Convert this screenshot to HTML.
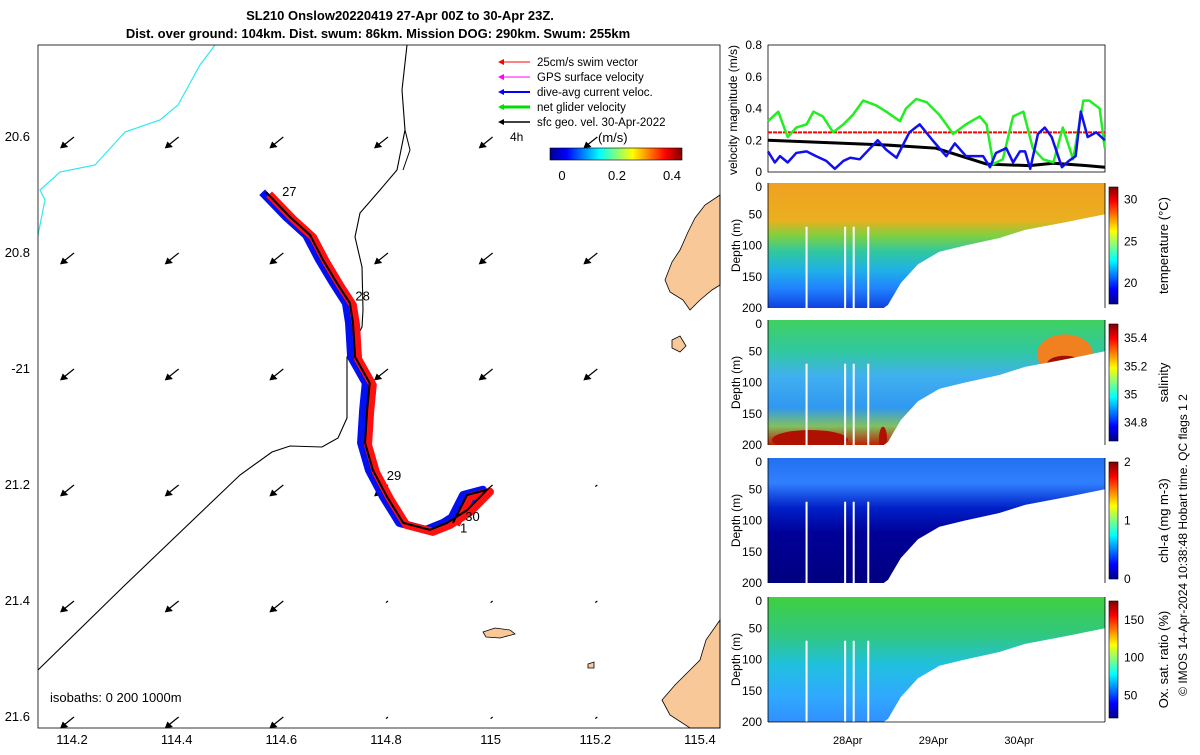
<!DOCTYPE html>
<html><head><meta charset="utf-8"><style>
body{margin:0;background:#fff;}
svg{font-family:"Liberation Sans",sans-serif;}
</style></head><body>
<svg id="s" width="1200" height="750" viewBox="0 0 1200 750" xmlns="http://www.w3.org/2000/svg">
<defs>
<linearGradient id="jetH" x1="0" x2="1" y1="0" y2="0">
<stop offset="0" stop-color="#00008f"/><stop offset="0.125" stop-color="#0000ff"/><stop offset="0.375" stop-color="#00ffff"/><stop offset="0.625" stop-color="#ffff00"/><stop offset="0.875" stop-color="#ff0000"/><stop offset="1" stop-color="#800000"/></linearGradient>
<linearGradient id="jetV" x1="0" x2="0" y1="1" y2="0">
<stop offset="0" stop-color="#00008f"/><stop offset="0.125" stop-color="#0000ff"/><stop offset="0.375" stop-color="#00ffff"/><stop offset="0.625" stop-color="#ffff00"/><stop offset="0.875" stop-color="#ff0000"/><stop offset="1" stop-color="#800000"/></linearGradient>
<linearGradient id="gT" x1="0" x2="0" y1="0" y2="1">
<stop offset="0" stop-color="#f0a020"/><stop offset="0.3" stop-color="#eab020"/><stop offset="0.42" stop-color="#80d040"/><stop offset="0.55" stop-color="#30c8a0"/><stop offset="0.7" stop-color="#20b0e8"/><stop offset="0.85" stop-color="#2080ff"/><stop offset="1" stop-color="#1040e0"/></linearGradient>
<linearGradient id="gS" x1="0" x2="0" y1="0" y2="1">
<stop offset="0" stop-color="#40d060"/><stop offset="0.25" stop-color="#30c8a0"/><stop offset="0.45" stop-color="#40b0f0"/><stop offset="0.7" stop-color="#3098f0"/><stop offset="0.85" stop-color="#80c060"/><stop offset="1" stop-color="#c02000"/></linearGradient>
<linearGradient id="gC" x1="0" x2="0" y1="0" y2="1">
<stop offset="0" stop-color="#2070f0"/><stop offset="0.2" stop-color="#3080ff"/><stop offset="0.4" stop-color="#0020c8"/><stop offset="0.6" stop-color="#000098"/><stop offset="1" stop-color="#000080"/></linearGradient>
<linearGradient id="gO" x1="0" x2="0" y1="0" y2="1">
<stop offset="0" stop-color="#40d040"/><stop offset="0.3" stop-color="#30c880"/><stop offset="0.55" stop-color="#20c0e0"/><stop offset="0.8" stop-color="#30a8ff"/><stop offset="1" stop-color="#3090ff"/></linearGradient>
</defs>
<g font-weight="bold" font-size="13" text-anchor="middle">
<text x="400" y="20">SL210 Onslow20220419 27-Apr 00Z to 30-Apr 23Z.</text>
<text x="378" y="38">Dist. over ground: 104km. Dist. swum: 86km. Mission DOG: 290km. Swum: 255km</text>
</g>
<g id="map"></g>
<g id="vel"></g>
<g id="heat"></g>
<text transform="translate(1187,545) rotate(-90)" font-size="12" text-anchor="middle">© IMOS 14-Apr-2024 10:38:48 Hobart time. QC flags 1  2</text>
</svg>
<script>
// ---------- data ----------
const lonTicks=[114.2,114.4,114.6,114.8,115,115.2,115.4];
const latTicks=[20.6,20.8,21,21.2,21.4,21.6];
const trackLon=[114.571,114.617,114.655,114.680,114.706,114.731,114.737,114.741,114.769,114.764,114.760,114.775,114.802,114.833,114.884,114.917,114.955,114.993,114.955,114.928];
const trackLat=[20.697,20.740,20.771,20.814,20.853,20.888,20.922,20.981,21.026,21.072,21.129,21.176,21.222,21.267,21.279,21.267,21.245,21.210,21.219,21.267];
const dayLabels=["27","28","29","30","1"];
const dayLon=[114.59,114.73,114.79,114.94,114.93];
const dayLat=[20.70,20.88,21.19,21.26,21.28];
const velT=[0,0.12,0.23,0.33,0.45,0.53,0.64,0.76,0.88,0.99,1.11,1.26,1.38,1.54,1.61,1.73,1.85,2.0,2.16,2.31,2.47,2.55,2.63,2.74,2.86,2.98,3.09,3.21,3.33,3.44,3.56,3.68,3.75,3.87,3.93];
const netVel=[0.32,0.38,0.22,0.28,0.30,0.38,0.35,0.25,0.30,0.36,0.45,0.42,0.38,0.32,0.40,0.46,0.44,0.36,0.24,0.30,0.35,0.30,0.05,0.08,0.35,0.38,0.15,0.08,0.06,0.28,0.08,0.45,0.45,0.40,0.15];
const curT=[0,0.08,0.14,0.23,0.33,0.45,0.56,0.68,0.78,0.88,0.96,1.07,1.28,1.38,1.50,1.65,1.77,1.92,2.08,2.18,2.31,2.51,2.59,2.66,2.78,2.86,2.94,3.00,3.06,3.15,3.23,3.31,3.43,3.51,3.59,3.65,3.73,3.83,3.93];
const curVel=[0.13,0.06,0.10,0.06,0.12,0.13,0.10,0.07,0.02,0.07,0.09,0.08,0.20,0.14,0.09,0.25,0.30,0.20,0.10,0.18,0.10,0.10,0.03,0.12,0.15,0.06,0.13,0.13,0.02,0.24,0.28,0.22,0.03,0.07,0.10,0.38,0.22,0.25,0.20];
const geoT=[0,1.38,1.96,2.55,3.05,3.33,3.72,3.93];
const geoVel=[0.20,0.17,0.15,0.05,0.04,0.055,0.04,0.03];
const swimVel=0.25;
const velTicks=[0,0.2,0.4,0.6,0.8];
const dateTicks=[1,2,3];
const dateLabels=["28Apr","29Apr","30Apr"];
const bottomT=[0,1.35,1.40,1.55,1.75,2.0,2.3,2.7,3.0,3.5,4.0];
const bottomD=[200,200,195,160,130,110,100,88,75,62,50];
const depthTicks=[0,50,100,150,200];
const tempTicks=[20,25,30];const tempRange=[17.5,31.5];
const salTicks=[34.8,35,35.2,35.4];const salRange=[34.67,35.5];
const chlTicks=[0,1,2];const chlRange=[0,2];
const oxTicks=[50,100,150];const oxRange=[20,175];
const gapT=[0.45,0.9,1.0,1.17];

const NS="http://www.w3.org/2000/svg";
function mk(p,tag,at,txt){const e=document.createElementNS(NS,tag);for(const k in at)e.setAttribute(k,at[k]);if(txt!==undefined)e.textContent=txt;p.appendChild(e);return e;}
// ---------- map ----------
const map=document.getElementById('map');
const X=l=>72+(l-114.2)*523.3, Y=l=>136+(l-20.6)*580;
let el;
[[ "M720,195 L705,205 L695,218 L688,232 L680,250 L672,262 L665,280 L670,292 L683,300 L690,310 L700,300 L712,290 L720,285Z"],
 ["M672,340 L680,336 L686,346 L680,352 L672,348Z"],
 ["M483,632 L495,628 L510,630 L515,634 L500,638 L486,637Z"],
 ["M720,620 L706,640 L700,660 L690,670 L675,685 L662,700 L670,715 L690,728 L720,728Z"],
 ["M588,664 L594,662 L594,668 L588,668Z"]].forEach(d=>{const p=mk(map,'path',{d:d[0],fill:'#f8c898',stroke:'#000','stroke-width':0.8});
 });
el=mk(map,'polyline',{points:"38,235 45,200 40,190 60,172 95,165 125,132 160,120 178,105 200,65 215,45",fill:'none',stroke:'#30e8f0','stroke-width':1.2});

el=mk(map,'polyline',{points:"38,670 125,585 240,475 272,452 290,446 322,447 338,438 347,418 347,357 362,327 363,310 362,267 355,237 360,213 380,190 397,170 405,130 402,90 407,45",fill:'none',stroke:'#000','stroke-width':1.1});

el=mk(map,'polyline',{points:"405,130 410,150 403,170",fill:'none',stroke:'#000','stroke-width':1});

lonTicks.slice(0,6).forEach((lo,i)=>latTicks.forEach((la,j)=>{
 const big=!(i>=3&&j>=4)&&!(i==5&&j>=3);const x=X(lo)+2,y=Y(la)+1;
 const g=mk(map,'g',{stroke:'#000','stroke-width':1.2});
 
 const L=big?12:2;mk(g,'line',{x1:x,y1:y,x2:x-L,y2:y+L*0.8});
 if(big)mk(g,'path',{d:`M${x-L-1},${y+L*0.8+1} l6,-1 l-4,-4Z`,fill:'#000'});
}));
const pts=(dx,dy)=>trackLon.map((l,i)=>(X(l)+dx)+','+(Y(trackLat[i])+dy)).join(' ');
el=mk(map,'polyline',{points:pts(-4,0),fill:'none',stroke:'#0010f0','stroke-width':8,'stroke-linejoin':'round'});

el=mk(map,'polyline',{points:pts(3,2),fill:'none',stroke:'#ff1010','stroke-width':8,'stroke-linejoin':'round'});

el=mk(map,'polyline',{points:pts(0,0),fill:'none',stroke:'#000','stroke-width':2});

dayLabels.forEach((d,i)=>{el=mk(map,'text',{x:X(dayLon[i])+6,y:Y(dayLat[i])+2,'font-size':13},d);
 });
el=mk(map,'rect',{x:38,y:45,width:682,height:683,fill:'none',stroke:'#000','stroke-width':0.8});

lonTicks.forEach(l=>{el=mk(map,'text',{x:X(l),y:744,'font-size':13,'text-anchor':'middle'},String(l));
 });
latTicks.forEach(l=>{el=mk(map,'text',{x:30,y:Y(l)+5,'font-size':13,'text-anchor':'end'},l==21?'-21':l.toFixed(1));
 });
el=mk(map,'text',{x:50,y:702,'font-size':13},'isobaths: 0   200  1000m');

const leg=[['#ff0000','25cm/s swim vector',1],['#ff00ff','GPS surface velocity',1],['#0000ff','dive-avg current veloc.',2],['#00dd00','net glider velocity',3],['#000','sfc geo. vel. 30-Apr-2022',1.5]];
leg.forEach((l,i)=>{const g=mk(map,'g',{});
 const y=62+i*15;mk(g,'line',{x1:500,y1:y,x2:530,y2:y,stroke:l[0],'stroke-width':l[2]});
 mk(g,'path',{d:`M498,${y} l6,-3 l0,6Z`,fill:l[0]});mk(g,'text',{x:537,y:y+4,'font-size':11.5},l[1]);});
el=mk(map,'text',{x:510,y:141,'font-size':12},'4h');
el=mk(map,'text',{x:598,y:142,'font-size':13},'(m/s)');
el=mk(map,'rect',{x:550,y:148,width:132,height:12,fill:'url(#jetH)',stroke:'#000','stroke-width':0.6});

[[0,562],[0.2,617],[0.4,672]].forEach(t=>{el=mk(map,'text',{x:t[1],y:180,'font-size':13,'text-anchor':'middle'},String(t[0]));
 });
// ---------- velocity chart ----------
const vel=document.getElementById('vel');
const tx=t=>768+t*85.7, vy=v=>172-v*(127/0.8);
el=mk(vel,'rect',{x:768,y:45,width:337,height:127,fill:'#fff',stroke:'#000','stroke-width':0.8});

velTicks.forEach(v=>{el=mk(vel,'text',{x:762,y:vy(v)+4,'font-size':12,'text-anchor':'end'},String(v));
 });
el=mk(vel,'text',{transform:'translate(737,110) rotate(-90)','font-size':12,'text-anchor':'middle'},'velocity magnitude (m/s)');

el=mk(vel,'line',{x1:768,x2:1105,y1:vy(swimVel),y2:vy(swimVel),stroke:'#ff0000','stroke-width':2,'stroke-dasharray':'4,1'});

const line=(T,V,c,w,n)=>{const p=mk(vel,'polyline',{points:T.map((t,i)=>tx(t)+','+vy(V[i])).join(' '),fill:'none',stroke:c,'stroke-width':w,'stroke-linejoin':'round'});};
line(geoT,geoVel,'#000',3,'geo-velocity-line');
line(velT,netVel,'#22ee22',2.5,'net-glider-velocity-line');
line(curT,curVel,'#1010ee',2.5,'current-velocity-line');
// ---------- sections ----------
const heat=document.getElementById('heat');
const panels=[
 {y:183,g:'gT',ticks:tempTicks,r:tempRange,title:'temperature (°C)',n:'temperature'},
 {y:320,g:'gS',ticks:salTicks,r:salRange,title:'salinity',n:'salinity'},
 {y:458,g:'gC',ticks:chlTicks,r:chlRange,title:'chl-a (mg m-3)',n:'chlorophyll'},
 {y:597,g:'gO',ticks:oxTicks,r:oxRange,title:'Ox. sat. ratio (%)',n:'oxygen'}];
const H=125;
panels.forEach((p,k)=>{
 const g=mk(heat,'g',{});
 const dy=d=>p.y+d/200*H;
 const poly=bottomT.map((t,i)=>Math.min(1105,tx(t))+','+dy(bottomD[i])).join(' ');
 const cp=mk(g,'clipPath',{id:'cp'+k});mk(cp,'polygon',{points:'768,'+p.y+' '+poly+' 1105,'+p.y});
 const fg=mk(g,'g',{'clip-path':'url(#cp'+k+')'});
 mk(fg,'rect',{x:768,y:p.y,width:337,height:H,fill:'url(#'+p.g+')'});
 if(k==1){mk(fg,'ellipse',{cx:810,cy:dy(192),rx:38,ry:10,fill:'#b01000'});mk(fg,'ellipse',{cx:883,cy:dy(190),rx:4,ry:12,fill:'#b01000'});
  mk(fg,'ellipse',{cx:1065,cy:dy(55),rx:28,ry:20,fill:'#f08020'});mk(fg,'ellipse',{cx:1065,cy:dy(70),rx:18,ry:8,fill:'#a01000'});}
 gapT.forEach(t=>mk(fg,'line',{x1:tx(t),x2:tx(t),y1:dy(70),y2:dy(200),stroke:'#fff','stroke-width':2}));
 mk(g,'line',{x1:1105,x2:1105,y1:p.y,y2:p.y+H,stroke:'#000','stroke-width':0.8});
 mk(g,'line',{x1:768,x2:768,y1:p.y,y2:p.y+H,stroke:'#000','stroke-width':0.8});
 depthTicks.forEach(d=>{const t=mk(g,'text',{x:762,y:dy(d)+(d==0?8:4),'font-size':12,'text-anchor':'end'},String(d));
  });
 el=mk(g,'text',{transform:`translate(740,${p.y+H/2}) rotate(-90)`,'font-size':12,'text-anchor':'middle'},'Depth (m)');
 
 el=mk(g,'rect',{x:1109,y:p.y+4,width:9,height:H-8,fill:'url(#jetV)',stroke:'#000','stroke-width':0.6});
 
 p.ticks.forEach(v=>{const yy=p.y+4+(H-8)*(1-(v-p.r[0])/(p.r[1]-p.r[0]));
  const t=mk(g,'text',{x:1124,y:yy+4,'font-size':12},String(v));
  });
 el=mk(g,'text',{transform:`translate(1168,${p.y+H/2}) rotate(-90)`,'font-size':13,'text-anchor':'middle'},p.title);
 
});
mk(heat,'line',{x1:768,x2:1105,y1:722,y2:722,stroke:'#000','stroke-width':0.8});
dateTicks.forEach((d,i)=>{el=mk(heat,'text',{x:tx(d)-6,y:744,'font-size':11,'text-anchor':'middle'},dateLabels[i]);
 });
</script>
</body></html>
